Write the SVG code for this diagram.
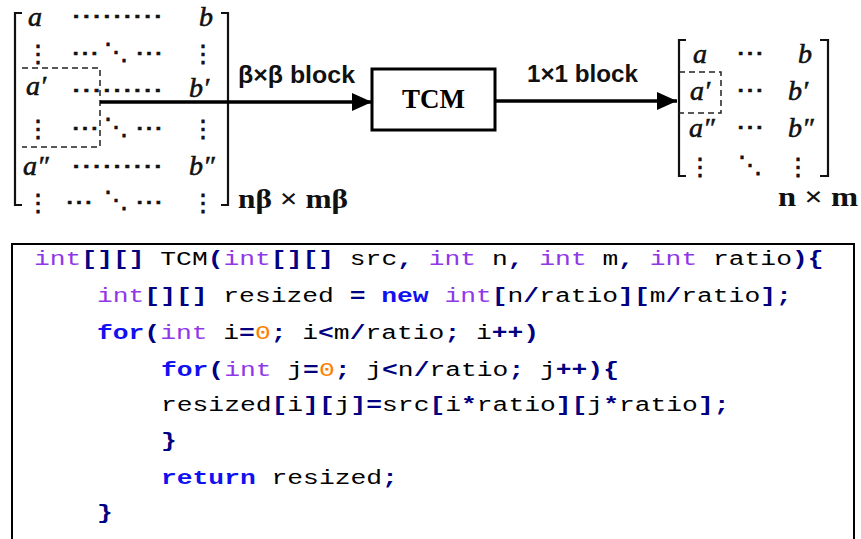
<svg xmlns="http://www.w3.org/2000/svg" width="861" height="539" viewBox="0 0 861 539">
<style>
  .mx{font-family:"Liberation Serif",serif;font-style:italic;font-size:28px;fill:#111;stroke:#111;stroke-width:0.6}
  .dt{font-family:"DejaVu Sans",sans-serif;font-size:24px;fill:#111;stroke:#111;stroke-width:0.7}
  .br{fill:none;stroke:#111;stroke-width:2.2}
  .dash{fill:none;stroke:#222;stroke-width:1.5;stroke-dasharray:6 4}
  .lbl{font-family:"Liberation Sans",sans-serif;font-weight:bold;font-size:24px;fill:#111}
  .dim{font-family:"Liberation Serif",serif;font-weight:bold;font-size:27px;fill:#111}
  .conn{fill:none;stroke:#000;stroke-width:3.5}
  .code{font-family:"Liberation Mono",monospace;font-size:21px;fill:#000}
  .ty{fill:#9038e8}
  .kw{fill:#1010f0;font-weight:bold}
  .op{fill:#000080;font-weight:bold}
  .nu{fill:#ff8000}
</style>
<defs>
  <marker id="ah" markerUnits="userSpaceOnUse" markerWidth="20" markerHeight="18" refX="20" refY="9" orient="auto">
    <path d="M0,0 L20,9 L0,18 Z" fill="#000"/>
  </marker>
</defs>
<rect width="861" height="539" fill="#fff"/>

<g id="src-matrix">
  <path class="br" d="M22,13 H15 V205 H22"/>
  <path class="br" d="M221,13 H228 V205 H221"/>
  <text class="mx" x="28" y="26">a</text>
  <text class="dt" x="71" y="24" textLength="92" lengthAdjust="spacingAndGlyphs">⋯⋯⋯</text>
  <text class="mx" x="199" y="26">b</text>
  <text class="dt" x="38" y="62" text-anchor="middle">⋮</text>
  <text class="dt" x="71" y="61" textLength="28" lengthAdjust="spacingAndGlyphs">⋯</text>
  <text class="dt" x="116" y="60" text-anchor="middle">⋱</text>
  <text class="dt" x="135" y="61" textLength="28" lengthAdjust="spacingAndGlyphs">⋯</text>
  <text class="dt" x="203" y="62" text-anchor="middle">⋮</text>
  <text class="mx" x="26" y="95">a′</text>
  <text class="dt" x="71" y="98" textLength="92" lengthAdjust="spacingAndGlyphs">⋯⋯⋯</text>
  <text class="mx" x="189" y="97">b′</text>
  <text class="dt" x="38" y="137" text-anchor="middle">⋮</text>
  <text class="dt" x="71" y="136" textLength="28" lengthAdjust="spacingAndGlyphs">⋯</text>
  <text class="dt" x="116" y="135" text-anchor="middle">⋱</text>
  <text class="dt" x="135" y="136" textLength="28" lengthAdjust="spacingAndGlyphs">⋯</text>
  <text class="dt" x="203" y="137" text-anchor="middle">⋮</text>
  <text class="mx" x="23" y="175">a″</text>
  <text class="dt" x="71" y="174" textLength="92" lengthAdjust="spacingAndGlyphs">⋯⋯⋯</text>
  <text class="mx" x="189" y="175">b″</text>
  <text class="dt" x="38" y="211" text-anchor="middle">⋮</text>
  <text class="dt" x="65" y="210" textLength="28" lengthAdjust="spacingAndGlyphs">⋯</text>
  <text class="dt" x="116" y="208" text-anchor="middle">⋱</text>
  <text class="dt" x="135" y="210" textLength="28" lengthAdjust="spacingAndGlyphs">⋯</text>
  <text class="dt" x="203" y="211" text-anchor="middle">⋮</text>
  <path class="dash" d="M22,68 H100 V147 H22"/>
  <text class="dim" x="238" y="208" textLength="110" lengthAdjust="spacingAndGlyphs">nβ × mβ</text>
</g>

<g id="tcm">
  <rect x="372" y="69" width="123" height="61" fill="#fff" stroke="#000" stroke-width="3"/>
  <text x="433.5" y="108" text-anchor="middle" style="font-family:'Liberation Serif',serif;font-weight:bold;font-size:27px" fill="#000">TCM</text>
</g>

<g id="dst-matrix">
  <path class="br" d="M686,40 H679 V176 H686"/>
  <path class="br" d="M820,40 H828 V176 H820"/>
  <text class="mx" x="693" y="63">a</text>
  <text class="dt" x="736" y="61" textLength="28" lengthAdjust="spacingAndGlyphs">⋯</text>
  <text class="mx" x="798" y="63">b</text>
  <text class="mx" x="690" y="100">a′</text>
  <text class="dt" x="736" y="98" textLength="28" lengthAdjust="spacingAndGlyphs">⋯</text>
  <text class="mx" x="788" y="100">b′</text>
  <text class="mx" x="689" y="137">a″</text>
  <text class="dt" x="736" y="135" textLength="28" lengthAdjust="spacingAndGlyphs">⋯</text>
  <text class="mx" x="788" y="137">b″</text>
  <text class="dt" x="700" y="175" text-anchor="middle">⋮</text>
  <text class="dt" x="750" y="173" text-anchor="middle">⋱</text>
  <text class="dt" x="798" y="175" text-anchor="middle">⋮</text>
  <path class="dash" d="M679,72 H721 V113 H679"/>
  <text class="dim" x="778" y="206" textLength="80" lengthAdjust="spacingAndGlyphs">n × m</text>
</g>

<g id="connectors">
  <line class="conn" x1="100" y1="102" x2="372" y2="102" marker-end="url(#ah)"/>
  <text class="lbl" x="238" y="83" textLength="117" lengthAdjust="spacingAndGlyphs">β×β block</text>
  <line class="conn" x1="495" y1="101" x2="677" y2="101" marker-end="url(#ah)"/>
  <text class="lbl" x="527" y="82" textLength="111" lengthAdjust="spacingAndGlyphs">1×1 block</text>
</g>

<g id="code">
  <rect x="12" y="244" width="842" height="310" fill="#fff" stroke="#000" stroke-width="2"/>
  <text class="code" xml:space="preserve" transform="translate(34,265) scale(1.254,1)"><tspan class="ty">int</tspan><tspan class="op">[][]</tspan> TCM<tspan class="op">(</tspan><tspan class="ty">int</tspan><tspan class="op">[][]</tspan> src<tspan class="op">,</tspan> <tspan class="ty">int</tspan> n<tspan class="op">,</tspan> <tspan class="ty">int</tspan> m<tspan class="op">,</tspan> <tspan class="ty">int</tspan> ratio<tspan class="op">){</tspan></text>
  <text class="code" xml:space="preserve" transform="translate(97,302) scale(1.254,1)"><tspan class="ty">int</tspan><tspan class="op">[][]</tspan> resized <tspan class="op">=</tspan> <tspan class="kw">new</tspan> <tspan class="ty">int</tspan><tspan class="op">[</tspan>n<tspan class="op">/</tspan>ratio<tspan class="op">][</tspan>m<tspan class="op">/</tspan>ratio<tspan class="op">];</tspan></text>
  <text class="code" xml:space="preserve" transform="translate(97,339) scale(1.254,1)"><tspan class="kw">for</tspan><tspan class="op">(</tspan><tspan class="ty">int</tspan> i<tspan class="op">=</tspan><tspan class="nu">0</tspan><tspan class="op">;</tspan> i<tspan class="op">&lt;</tspan>m<tspan class="op">/</tspan>ratio<tspan class="op">;</tspan> i<tspan class="op">++)</tspan></text>
  <text class="code" xml:space="preserve" transform="translate(161,376) scale(1.254,1)"><tspan class="kw">for</tspan><tspan class="op">(</tspan><tspan class="ty">int</tspan> j<tspan class="op">=</tspan><tspan class="nu">0</tspan><tspan class="op">;</tspan> j<tspan class="op">&lt;</tspan>n<tspan class="op">/</tspan>ratio<tspan class="op">;</tspan> j<tspan class="op">++){</tspan></text>
  <text class="code" xml:space="preserve" transform="translate(161,411) scale(1.254,1)">resized<tspan class="op">[</tspan>i<tspan class="op">][</tspan>j<tspan class="op">]=</tspan>src<tspan class="op">[</tspan>i<tspan class="op">*</tspan>ratio<tspan class="op">][</tspan>j<tspan class="op">*</tspan>ratio<tspan class="op">];</tspan></text>
  <text class="code" xml:space="preserve" transform="translate(161,447) scale(1.254,1)"><tspan class="op">}</tspan></text>
  <text class="code" xml:space="preserve" transform="translate(161,484) scale(1.254,1)"><tspan class="kw">return</tspan> resized<tspan class="op">;</tspan></text>
  <text class="code" xml:space="preserve" transform="translate(97,519) scale(1.254,1)"><tspan class="op">}</tspan></text>
</g>
</svg>
